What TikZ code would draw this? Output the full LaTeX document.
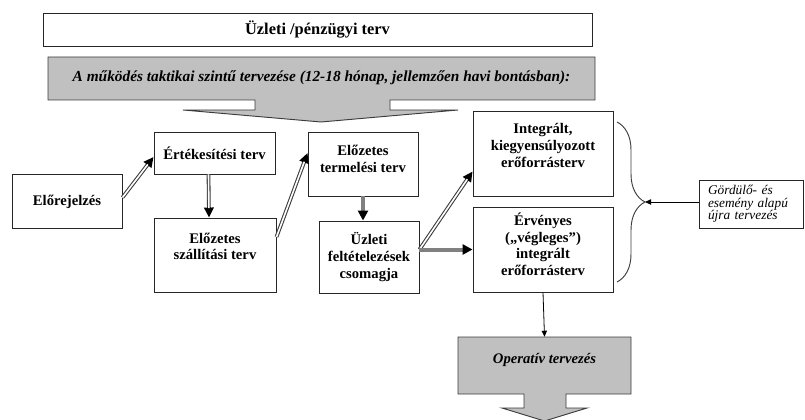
\documentclass[tikz,border=0pt]{standalone}
\usepackage{fontspec}
\setmainfont{Liberation Serif}
\usetikzlibrary{arrows.meta,calc,decorations.pathreplacing}
\definecolor{bannergray}{RGB}{192,192,192}
\definecolor{edgegray}{RGB}{60,60,60}
\definecolor{flowgray}{RGB}{128,128,128}

\begin{document}
\begin{tikzpicture}[x=0.75pt,y=-0.75pt,
    every node/.style={font=\fontsize{11}{12.5}\selectfont\bfseries,align=center,inner sep=0pt},
    planbox/.style={draw=black!85,line width=0.7pt,fill=white},
    dbl/.style={draw=white,line width=1.2pt,shorten >=7pt,
      preaction={draw=edgegray,line width=2.8pt,shorten >=0pt,
        -{Triangle[length=7.5pt,width=7pt,color=black,fill=black]}}},
    fat/.style={draw=flowgray,line width=3pt,
      -{Triangle[length=7.5pt,width=7.5pt,color=black,fill=black]}},
    slim/.style={draw=black,line width=0.6pt,-{Triangle[length=4.5pt,width=4pt]}},
    callout/.style={fill=bannergray,draw=edgegray,line width=0.7pt}]
    \def\pxu{0.75pt}
    \useasboundingbox (0,0) rectangle (805,420);
    % title and tactical banner
    \node[planbox,minimum width=549*\pxu,minimum height=33*\pxu,font=\fontsize{12.3}{14}\selectfont\bfseries] (terv) at (317.5,29.5) {Üzleti /pénzügyi terv};
    \filldraw[callout] (48,57) -- (595,57) -- (595,100) -- (390,100) -- (390,110) -- (458,110) -- (321,122)
      -- (183,110) -- (255,110) -- (255,100) -- (48,100) -- cycle;
    \node[font=\fontsize{11.5}{13}\selectfont\bfseries\itshape] (taktika) at (321.5,78) {A működés taktikai szintű tervezése (12-18 hónap, jellemzően havi bontásban):};
    % planning boxes
    \node[planbox,minimum width=110*\pxu,minimum height=54*\pxu] (elore) at (67,201.5) {Előrejelzés};
    \node[planbox,minimum width=121*\pxu,minimum height=42*\pxu] (ertek) at (214.5,153) {Értékesítési terv};
    \node[planbox,minimum width=122*\pxu,minimum height=74*\pxu,text depth=13pt] (szall) at (215,255) {Előzetes\\szállítási terv};
    \node[planbox,minimum width=110*\pxu,minimum height=64*\pxu,text depth=8pt] (termel) at (363,164) {Előzetes\\termelési terv};
    \node[planbox,minimum width=100*\pxu,minimum height=72*\pxu] (uzleti) at (369,257) {Üzleti\\feltételezések\\csomagja};
    \node[planbox,minimum width=140*\pxu,minimum height=85*\pxu,text depth=12pt] (integr) at (543,153.5) {Integrált,\\kiegyensúlyozott\\erőforrásterv};
    \node[planbox,minimum width=140*\pxu,minimum height=85*\pxu,text depth=8pt] (erveny) at (543,249.5) {Érvényes\\(„végleges”)\\integrált\\erőforrásterv};
    \node[planbox,minimum width=104*\pxu,minimum height=48*\pxu,align=left,text width=86*\pxu,
      font=\fontsize{10}{9.5}\selectfont\itshape] (gordulo) at (751,204) {Gördülő- és\\esemény alapú\\újra tervezés};
    % operative planning arrow
    \filldraw[callout] (458,337) -- (631,337) -- (631,394) -- (566,394) -- (566,408) -- (587,408) -- (544.5,421)
      -- (502,408) -- (524,408) -- (524,394) -- (458,394) -- cycle;
    \node[minimum width=173*\pxu,minimum height=46*\pxu,font=\fontsize{11}{12.5}\selectfont\bfseries\itshape] (operativ) at (544.5,360) {Operatív tervezés};
    % brace
    \draw[decorate,decoration={brace,amplitude=21pt},draw=edgegray,line width=0.7pt] (617,122) -- (617,282);
    \coordinate (bracetip) at (645,202);
    % connectors
    \draw[dbl] ($(elore.east)+(0,-4)$) -- ($(ertek.west)+(0,4)$);
    \draw[dbl] ([xshift=-4.5pt]ertek.south) -- ([xshift=-4.5pt]szall.north);
    \draw[dbl] ($(szall.east)+(0,-18)$) -- ($(termel.west)+(0,-11)$);
    \draw[fat] (termel.south) -- (termel.south |- uzleti.north);
    \draw[dbl] (uzleti.east |- erveny.west) -- ($(integr.west)+(0,18)$);
    \draw[fat] (uzleti.east |- erveny.west) -- (erveny.west);
    \draw[slim] (erveny.south) -- (operativ.north);
    \draw[slim] (gordulo.west |- bracetip) -- (bracetip);
\end{tikzpicture}
\end{document}
